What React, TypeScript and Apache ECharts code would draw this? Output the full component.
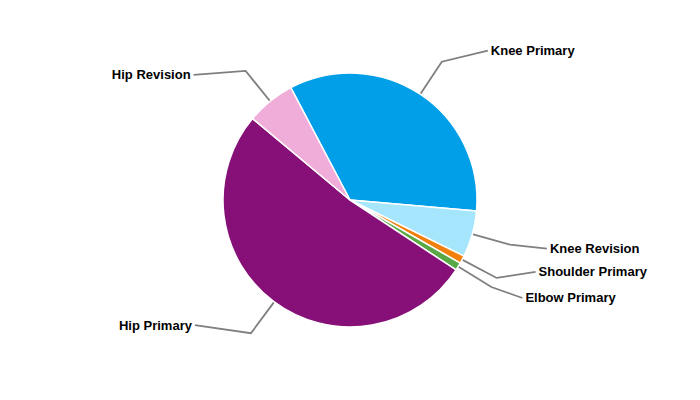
import React, { useEffect, useRef } from "react";
import * as echarts from "echarts";

const categories = [
  "Knee Primary",
  "Knee Revision",
  "Shoulder Primary",
  "Elbow Primary",
  "Hip Primary",
  "Hip Revision",
];
const values = [34.1, 5.9, 1.0, 1.0, 51.8, 6.2];
const colors = ["#009FE8", "#A6E6FC", "#F27F0C", "#5AA845", "#860F78", "#F0ADDA"];

// second label-line segment offsets (dx, dy) from the elbow point
const labelOffsets: [number, number][] = [
  [46, -11],
  [37, 4],
  [39, -6],
  [31, 11],
  [-56, -8],
  [-52, 4],
];

export default function App() {
  const ref = useRef<HTMLDivElement>(null);
  useEffect(() => {
    if (!ref.current) return;
    const chart = echarts.init(ref.current, undefined, { renderer: "svg" });
    chart.setOption({
      animation: false,
      backgroundColor: "#ffffff",
      series: [
        {
          type: "pie",
          center: [350, 200],
          radius: 127,
          startAngle: 117.8,
          clockwise: true,
          avoidLabelOverlap: false,
          silent: true,
          itemStyle: { borderColor: "#ffffff", borderWidth: 1.5 },
          label: {
            show: true,
            position: "outer",
            color: "#000000",
            fontSize: 13,
            fontWeight: "bold",
            fontFamily: "Liberation Sans, Arial, sans-serif",
            formatter: "{b}",
          },
          labelLine: {
            show: true,
            length: 39,
            length2: 40,
            smooth: false,
            lineStyle: { color: "#7f7f7f", width: 1.8 },
          },
          labelLayout: (params: any) => {
            const i = params.dataIndex;
            const pts = params.labelLinePoints;
            if (!pts) return {};
            const p0 = pts[0];
            const p1 = pts[1];
            const [dx, dy] = labelOffsets[i];
            const end = [p1[0] + dx, p1[1] + dy];
            const right = dx > 0;
            return {
              x: end[0] + (right ? 3 : -3),
              y: end[1],
              align: right ? "left" : "right",
              verticalAlign: "middle",
              labelLinePoints: [p0, p1, end],
            };
          },
          data: categories.map((name, i) => ({
            name,
            value: values[i],
            itemStyle: { color: colors[i] },
          })),
        },
      ],
    });
    return () => chart.dispose();
  }, []);
  return (
    <div
      ref={ref}
      style={{ position: "fixed", left: 0, top: 0, width: 700, height: 400 }}
    />
  );
}
